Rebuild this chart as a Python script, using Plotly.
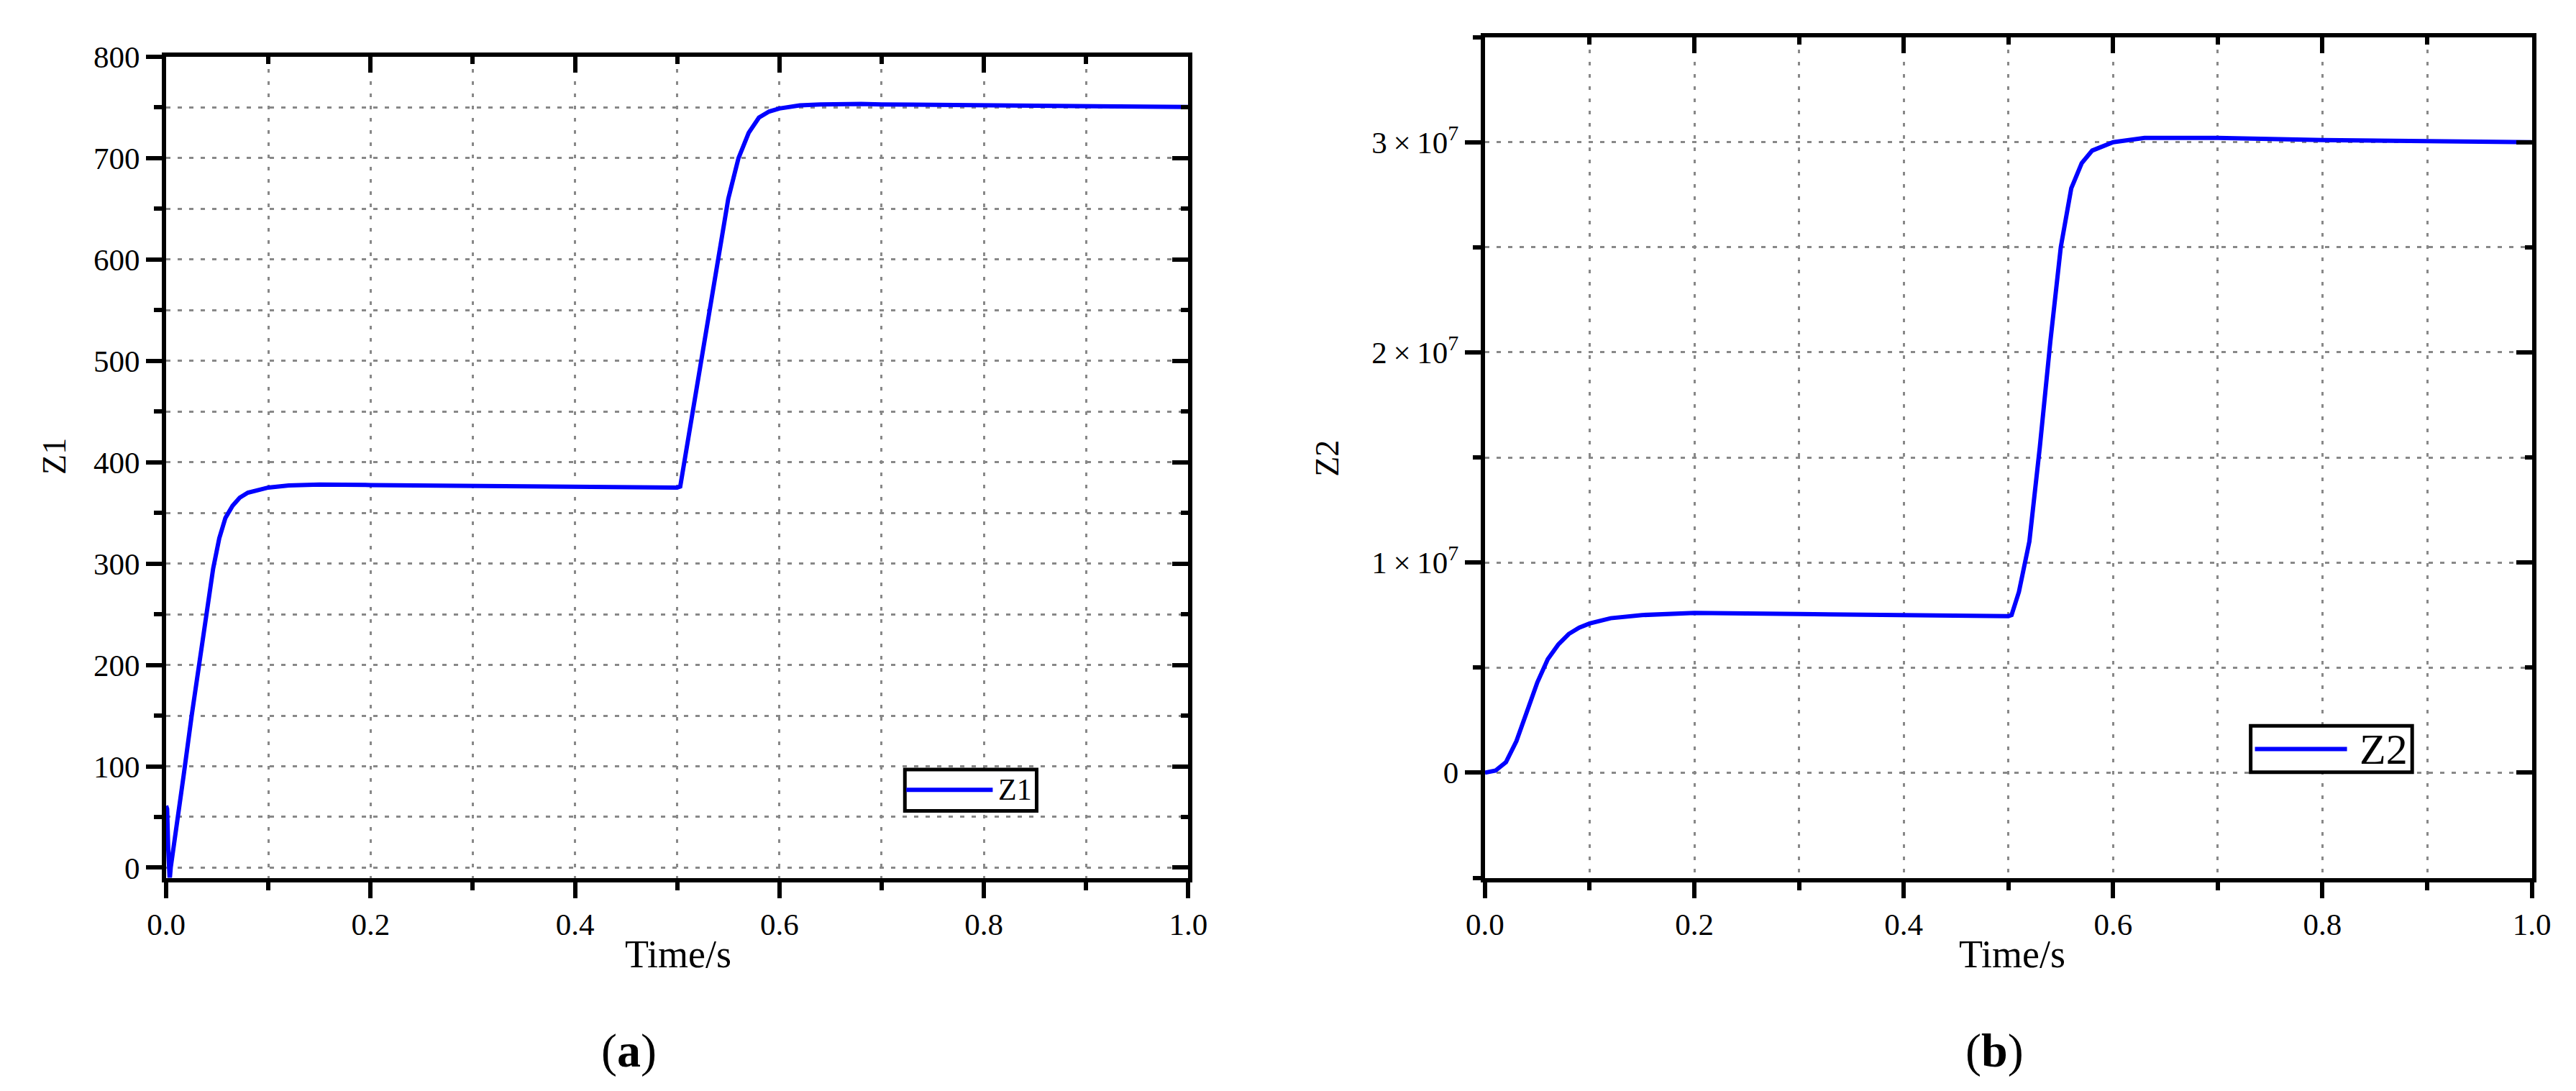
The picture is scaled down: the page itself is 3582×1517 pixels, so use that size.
import plotly.graph_objects as go

W, H = 3582, 1517

# panel (a): Z1 response
t_z1 = [0, 0.001, 0.002, 0.0035, 0.0045, 0.01, 0.017, 0.025, 0.033, 0.04, 0.046,
        0.052, 0.058, 0.065, 0.072, 0.08, 0.09, 0.1, 0.12, 0.15, 0.2, 0.3, 0.4,
        0.5, 0.503, 0.51, 0.52, 0.53, 0.54, 0.55, 0.56, 0.57, 0.58, 0.59, 0.6,
        0.62, 0.64, 0.66, 0.68, 0.7, 0.75, 0.8, 0.9, 1.0]
z1 = [61, 58, 20, -12, 0, 38, 90, 150, 208, 258, 295,
      325, 345, 357, 365, 370, 373, 375, 377, 378, 377.5, 376.5, 375.5,
      375, 376, 418, 480, 542, 603, 660, 700, 725, 740, 746, 749,
      752, 753, 753.5, 753.5, 753, 752.5, 752, 751, 750.5]

# panel (b): Z2 response
t_z2 = [0, 0.01, 0.02, 0.03, 0.04, 0.05, 0.06, 0.07, 0.08, 0.09, 0.1, 0.12,
        0.15, 0.2, 0.3, 0.4, 0.5, 0.503, 0.51, 0.52, 0.53, 0.54, 0.55, 0.56,
        0.57, 0.58, 0.6, 0.63, 0.66, 0.7, 0.8, 0.9, 1.0]
z2 = [0, 0.1e6, 0.5e6, 1.5e6, 2.9e6, 4.3e6, 5.4e6, 6.1e6, 6.6e6, 6.9e6, 7.1e6, 7.35e6,
      7.5e6, 7.6e6, 7.55e6, 7.5e6, 7.45e6, 7.5e6, 8.6e6, 1.1e7, 1.55e7, 2.05e7, 2.5e7, 2.78e7,
      2.9e7, 2.96e7, 3.0e7, 3.02e7, 3.02e7, 3.02e7, 3.01e7, 3.005e7, 3.0e7]

# tick labels of the Z2 axis
z2_tickvals = [0, 1e7, 2e7, 3e7]
z2_ticktext = ["0", "1\u2009×\u200910<sup>7</sup>", "2\u2009×\u200910<sup>7</sup>",
               "3\u2009×\u200910<sup>7</sup>"]

FONT = "Liberation Serif"
BLUE = "#0000ff"
GRID = "#888888"


def px(x):
    return x / W


def py(y):
    return 1 - y / H


def base_axis(**kw):
    d = dict(
        showline=True, linecolor="black", linewidth=6, mirror=True,
        ticks="outside", ticklen=22, tickwidth=6, tickcolor="black",
        showgrid=True, gridcolor=GRID, gridwidth=3, griddash="5px,12px",
        zeroline=False,
        tickfont=dict(family=FONT, size=43, color="black"),
    )
    d.update(kw)
    return d


def inner_axis(**kw):
    d = dict(
        showline=False, ticks="inside", ticklen=22, tickwidth=6, tickcolor="black",
        showgrid=False, zeroline=False, showticklabels=False,
    )
    d.update(kw)
    return d


fig = go.Figure()

fig.add_trace(go.Scatter(x=t_z1, y=z1, mode="lines", name="Z1",
                         line=dict(color=BLUE, width=6), showlegend=False,
                         xaxis="x", yaxis="y"))
fig.add_trace(go.Scatter(x=t_z2, y=z2, mode="lines", name="Z2",
                         line=dict(color=BLUE, width=6), showlegend=False,
                         xaxis="x2", yaxis="y2"))
# empty traces so the inward mirror-tick axes get drawn
fig.add_trace(go.Scatter(x=[None], y=[None], xaxis="x3", yaxis="y3", showlegend=False))
fig.add_trace(go.Scatter(x=[None], y=[None], xaxis="x4", yaxis="y4", showlegend=False))

dom_a = [px(199), px(1642)]
dom_b = [px(2061), px(3539)]
ydom_a = [py(1216), py(49)]
ydom_b = [py(1216), py(21)]

minor_x = dict(tickmode="linear", dtick=0.1, tick0=0, ticklen=11, tickwidth=6,
               tickcolor="black", showgrid=True, gridcolor=GRID, gridwidth=3,
               griddash="5px,12px")

fig.update_layout(
    width=W, height=H,
    margin=dict(l=0, r=0, t=0, b=0),
    paper_bgcolor="white", plot_bgcolor="white",
    font=dict(family=FONT, color="black"),
    xaxis=base_axis(domain=dom_a, anchor="y", range=[0, 1], dtick=0.2, tick0=0,
                    tickformat=".1f", minor=minor_x),
    yaxis=base_axis(domain=ydom_a, anchor="x", range=[-10, 800], dtick=100, tick0=0,
                    minor=dict(tickmode="linear", dtick=50, tick0=0, ticklen=11, tickwidth=6,
                               tickcolor="black", showgrid=True, gridcolor=GRID,
                               gridwidth=3, griddash="6px,10px"),
                    griddash="6px,10px"),
    xaxis2=base_axis(domain=dom_b, anchor="y2", range=[0, 1], dtick=0.2, tick0=0,
                     tickformat=".1f", minor=minor_x),
    yaxis2=base_axis(domain=ydom_b, anchor="x2", range=[-5e6, 3.5e7],
                     tickmode="array", tickvals=z2_tickvals, ticktext=z2_ticktext,
                     minor=dict(tickmode="linear", dtick=5e6, tick0=0, ticklen=11,
                                tickwidth=6, tickcolor="black", showgrid=True,
                                gridcolor=GRID, gridwidth=3, griddash="6px,10px"),
                     griddash="6px,10px"),
    xaxis3=inner_axis(overlaying="x", side="top", anchor="y3", range=[0, 1], dtick=0.2,
                      tick0=0, minor=dict(tickmode="linear", dtick=0.1, tick0=0, ticklen=10,
                                          tickwidth=6, tickcolor="black", ticks="inside")),
    yaxis3=inner_axis(overlaying="y", side="right", anchor="x3", range=[-10, 800], dtick=100,
                      tick0=0, minor=dict(tickmode="linear", dtick=50, tick0=0, ticklen=10,
                                          tickwidth=6, tickcolor="black", ticks="inside")),
    xaxis4=inner_axis(overlaying="x2", side="top", anchor="y4", range=[0, 1], dtick=0.2,
                      tick0=0, minor=dict(tickmode="linear", dtick=0.1, tick0=0, ticklen=10,
                                          tickwidth=6, tickcolor="black", ticks="inside")),
    yaxis4=inner_axis(overlaying="y2", side="right", anchor="x4", range=[-5e6, 3.5e7],
                      dtick=1e7, tick0=0,
                      minor=dict(tickmode="linear", dtick=5e6, tick0=0, ticklen=10,
                                 tickwidth=6, tickcolor="black", ticks="inside")),
)

# hand-drawn legend boxes, as in the source figure
legends = [
    dict(box=(1242, 1062, 1428, 1121), line=(1244, 1366, 1091), text="Z1", tx=1423, size=42),
    dict(box=(3142, 1000, 3370, 1066), line=(3148, 3278, 1033), text="Z2", tx=3366, size=60),
]
for lg in legends:
    x0, y0, x1, y1 = lg["box"]
    fig.add_shape(type="rect", xref="paper", yref="paper",
                  x0=px(x0), x1=px(x1), y0=py(y1), y1=py(y0),
                  line=dict(color="black", width=5), fillcolor="white", layer="above")
    lx0, lx1, ly = lg["line"]
    fig.add_shape(type="line", xref="paper", yref="paper",
                  x0=px(lx0), x1=px(lx1), y0=py(ly), y1=py(ly),
                  line=dict(color=BLUE, width=6), layer="above")
    fig.add_annotation(xref="paper", yref="paper", x=px(lg["tx"]), y=py(ly),
                       xanchor="right", yanchor="middle", showarrow=False,
                       text=lg["text"], font=dict(family=FONT, size=lg["size"], color="black"))

# axis titles and panel labels
labels = [
    ("Z1", 41, 617, 46, -90),
    ("Z2", 1838, 620, 46, -90),
    ("Time/s", 922, 1325, 54, 0),
    ("Time/s", 2805, 1325, 54, 0),
    ("(<b>a</b>)", 852, 1462, 66, 0),
    ("(<b>b</b>)", 2780, 1462, 66, 0),
]
for txt, x, y, size, ang in labels:
    fig.add_annotation(xref="paper", yref="paper", x=px(x), y=py(y),
                       xanchor="center", yanchor="middle", showarrow=False,
                       text=txt, textangle=ang,
                       font=dict(family=FONT, size=size, color="black"))

fig.write_html("out.html")
